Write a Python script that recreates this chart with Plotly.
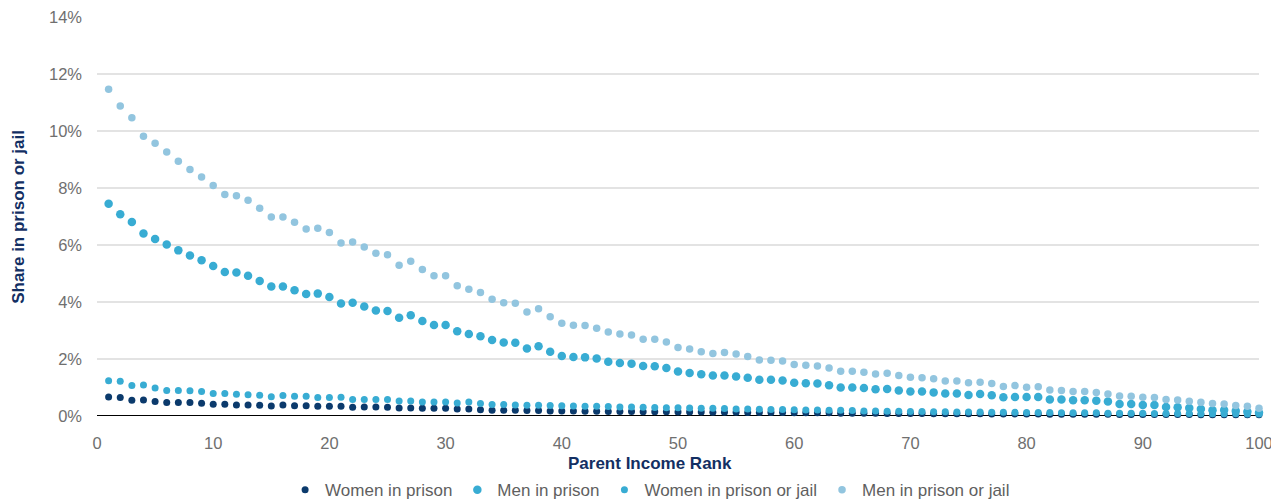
import plotly.graph_objects as go

ranks = list(range(1, 101))

women_prison = [
    0.67, 0.65, 0.55, 0.56, 0.51, 0.47, 0.47, 0.47, 0.45, 0.41,
    0.41, 0.39, 0.39, 0.38, 0.35, 0.39, 0.36, 0.36, 0.34, 0.34,
    0.34, 0.31, 0.32, 0.32, 0.31, 0.28, 0.28, 0.27, 0.27, 0.27,
    0.25, 0.25, 0.22, 0.20, 0.20, 0.20, 0.19, 0.19, 0.18, 0.18,
    0.18, 0.17, 0.17, 0.16, 0.16, 0.16, 0.15, 0.15, 0.15, 0.14,
    0.14, 0.14, 0.13, 0.13, 0.13, 0.12, 0.12, 0.12, 0.12, 0.11,
    0.11, 0.11, 0.11, 0.10, 0.10, 0.10, 0.10, 0.09, 0.09, 0.09,
    0.09, 0.08, 0.08, 0.08, 0.08, 0.08, 0.07, 0.07, 0.07, 0.07,
    0.07, 0.06, 0.06, 0.06, 0.06, 0.06, 0.06, 0.05, 0.05, 0.05,
    0.05, 0.05, 0.05, 0.05, 0.04, 0.04, 0.04, 0.04, 0.04, 0.04,
]

men_prison = [
    7.46, 7.09, 6.82, 6.41, 6.22, 6.03, 5.82, 5.64, 5.47, 5.27,
    5.06, 5.04, 4.93, 4.74, 4.55, 4.55, 4.42, 4.29, 4.30, 4.18,
    3.95, 3.98, 3.85, 3.71, 3.69, 3.45, 3.54, 3.34, 3.20, 3.20,
    2.98, 2.88, 2.80, 2.67, 2.58, 2.57, 2.37, 2.45, 2.26, 2.11,
    2.07, 2.06, 2.02, 1.91, 1.86, 1.84, 1.76, 1.75, 1.69, 1.56,
    1.51, 1.47, 1.42, 1.42, 1.39, 1.34, 1.27, 1.27, 1.25, 1.17,
    1.15, 1.14, 1.08, 1.00, 1.00, 0.98, 0.94, 0.95, 0.90, 0.86,
    0.86, 0.83, 0.79, 0.79, 0.74, 0.77, 0.73, 0.66, 0.67, 0.67,
    0.67, 0.58, 0.58, 0.55, 0.55, 0.54, 0.51, 0.42, 0.42, 0.39,
    0.39, 0.32, 0.31, 0.28, 0.25, 0.20, 0.21, 0.18, 0.15, 0.11,
]

women_prison_jail = [
    1.24, 1.22, 1.07, 1.09, 0.98, 0.90, 0.90, 0.89, 0.86, 0.79,
    0.79, 0.76, 0.75, 0.73, 0.68, 0.72, 0.69, 0.69, 0.65, 0.65,
    0.66, 0.58, 0.58, 0.58, 0.58, 0.53, 0.53, 0.49, 0.49, 0.49,
    0.46, 0.49, 0.44, 0.40, 0.40, 0.39, 0.38, 0.38, 0.37, 0.36,
    0.35, 0.34, 0.34, 0.33, 0.32, 0.32, 0.31, 0.30, 0.29, 0.29,
    0.28, 0.27, 0.27, 0.26, 0.25, 0.25, 0.24, 0.23, 0.23, 0.22,
    0.21, 0.21, 0.20, 0.20, 0.19, 0.18, 0.18, 0.17, 0.17, 0.16,
    0.16, 0.15, 0.15, 0.14, 0.14, 0.14, 0.13, 0.13, 0.13, 0.12,
    0.12, 0.12, 0.11, 0.11, 0.11, 0.11, 0.10, 0.10, 0.10, 0.10,
    0.09, 0.09, 0.09, 0.09, 0.08, 0.08, 0.08, 0.08, 0.07, 0.07,
]

men_prison_jail = [
    11.48, 10.89, 10.48, 9.83, 9.58, 9.28, 8.95, 8.66, 8.40, 8.10,
    7.78, 7.74, 7.58, 7.30, 6.99, 6.99, 6.81, 6.57, 6.60, 6.45,
    6.08, 6.11, 5.94, 5.72, 5.67, 5.30, 5.44, 5.15, 4.93, 4.93,
    4.58, 4.45, 4.34, 4.10, 3.98, 3.96, 3.65, 3.77, 3.49, 3.26,
    3.19, 3.18, 3.08, 2.95, 2.88, 2.85, 2.70, 2.70, 2.60, 2.41,
    2.35, 2.26, 2.20, 2.23, 2.18, 2.09, 1.97, 1.96, 1.93, 1.81,
    1.78, 1.76, 1.69, 1.57, 1.57, 1.54, 1.48, 1.50, 1.42, 1.36,
    1.34, 1.31, 1.23, 1.23, 1.17, 1.19, 1.14, 1.04, 1.07, 1.01,
    1.03, 0.91, 0.90, 0.86, 0.86, 0.83, 0.77, 0.70, 0.69, 0.66,
    0.65, 0.58, 0.56, 0.52, 0.48, 0.44, 0.42, 0.37, 0.34, 0.27,
]

y_ticks = [0, 2, 4, 6, 8, 10, 12, 14]
y_tick_labels = ["0%", "2%", "4%", "6%", "8%", "10%", "12%", "14%"]
x_ticks = [0, 10, 20, 30, 40, 50, 60, 70, 80, 90, 100]

series = [
    ("Women in prison", women_prison, "#0b3a6c", 7),
    ("Men in prison", men_prison, "#38acd3", 8.5),
    ("Women in prison or jail", women_prison_jail, "#38acd3", 7),
    ("Men in prison or jail", men_prison_jail, "#92c5df", 7.5),
]

FONT = "Liberation Sans, Arial, sans-serif"
NAVY = "#132f63"
GRAY = "#6f6f6f"

fig = go.Figure()
for name, vals, color, size in series:
    fig.add_trace(go.Scatter(
        x=ranks, y=vals, mode="markers", name=name,
        marker=dict(color=color, size=size, line=dict(width=0)),
        cliponaxis=False,
    ))

# The page adds an 8px body margin, so the figure is sized to fit the
# remaining 1271x491 of the window.
fig.update_layout(
    width=1271, height=491,
    margin=dict(l=89, r=20, t=9, b=83, autoexpand=False),
    paper_bgcolor="white", plot_bgcolor="white",
    font=dict(family=FONT, color=GRAY, size=16.5),
    showlegend=True,
    legend=dict(
        orientation="h", x=0.476, xanchor="center", y=-0.186, yanchor="middle",
        font=dict(family=FONT, size=17, color="#5f5f5f"),
        itemwidth=30, tracegroupgap=0,
    ),
    xaxis=dict(
        range=[0, 100], tickvals=x_ticks, showgrid=False, zeroline=False,
        showline=False, ticks="", ticklabelstandoff=15, automargin=False,
        tickfont=dict(family=FONT, size=16.5, color=GRAY),
    ),
    yaxis=dict(
        range=[0, 14.02], tickvals=y_ticks, ticktext=y_tick_labels,
        showgrid=True, gridcolor="#e3e3e3", gridwidth=1.5,
        zeroline=False, showline=False, ticks="", ticklabelstandoff=14,
        automargin=False,
        tickfont=dict(family=FONT, size=16.5, color=GRAY),
    ),
    shapes=[dict(
        type="line", xref="paper", yref="y", x0=0, x1=1, y0=0, y1=0,
        line=dict(color="black", width=2), layer="below",
    )],
    annotations=[
        dict(text="<b>Parent Income Rank</b>", xref="paper", yref="paper",
             x=0.476, y=-0.12, xanchor="center", yanchor="middle",
             showarrow=False, font=dict(family=FONT, size=17, color=NAVY)),
        dict(text="<b>Share in prison or jail</b>", xref="paper", yref="paper",
             x=-0.0677, y=0.5, xanchor="center", yanchor="middle",
             textangle=-90, showarrow=False,
             font=dict(family=FONT, size=17, color=NAVY)),
    ],
)

fig.write_html("out.html")
